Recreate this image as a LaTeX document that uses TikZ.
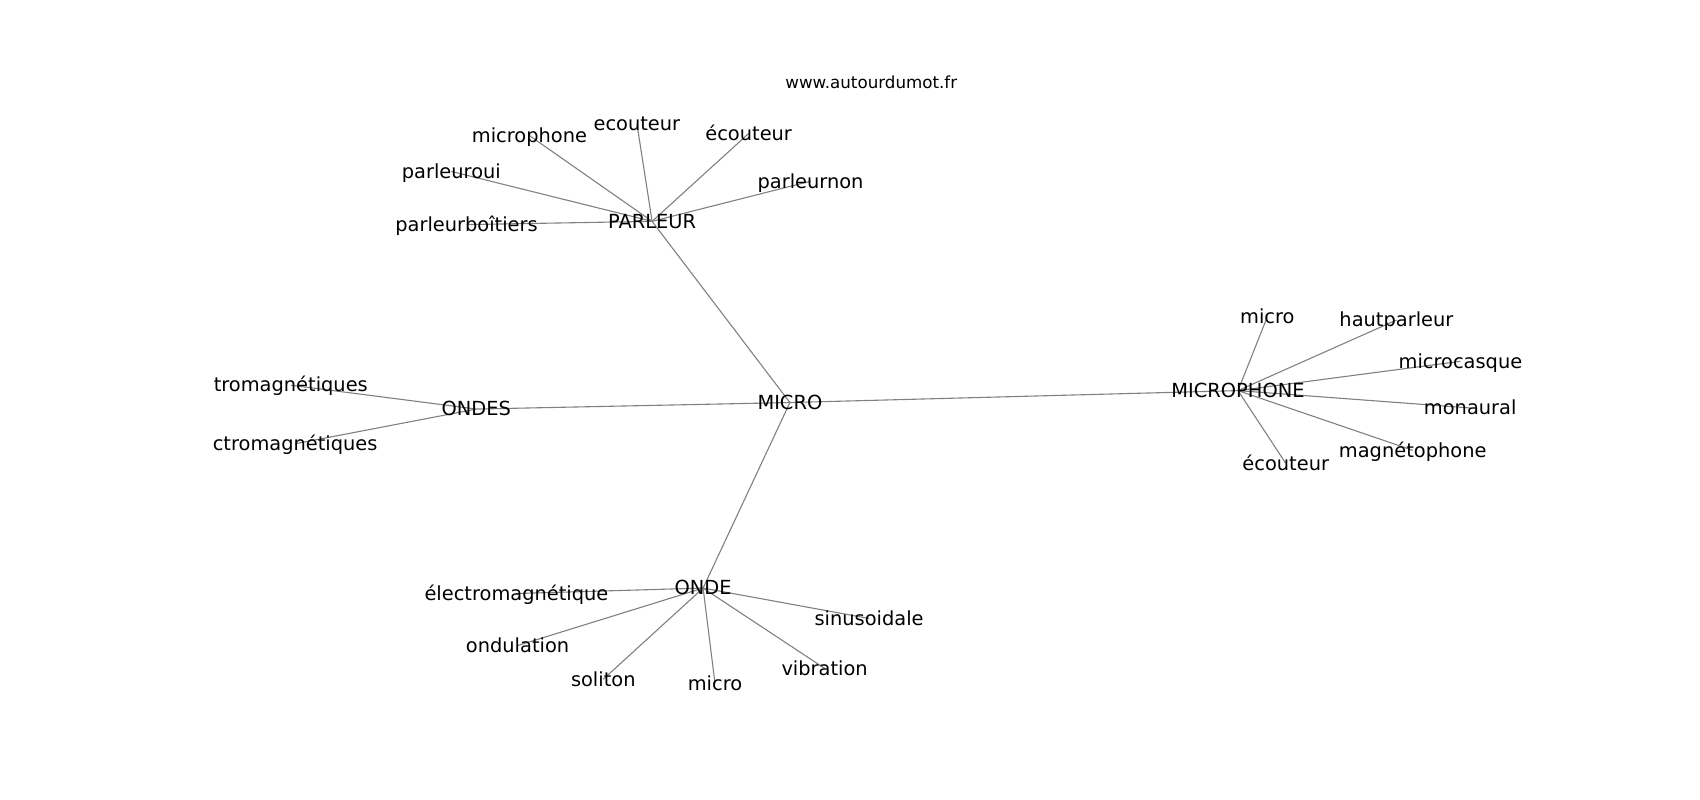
\documentclass[tikz,border=0pt]{standalone}
\usepackage{fontspec}
\setmainfont{DejaVu Sans}
\begin{document}
\begin{tikzpicture}[x=1.085pt,y=-1.085pt,
  lbl/.style={inner sep=0pt,text height=0.76em,text depth=0.24em,font=\fontsize{19.4}{23}\selectfont,anchor=center,yshift=-4.2pt},
  web/.style={inner sep=0pt,font=\fontsize{16.7}{20}\selectfont},
  edge/.style={draw=black!50,line width=1.1pt}]
\useasboundingbox (0,0) rectangle (1566.8,737.3);
\node[web] (www) at (803,76) {www.autourdumot.fr};
% hubs
\coordinate (cMICRO) at (728,371);
\coordinate (cPARLEUR) at (601,204);
\coordinate (cONDES) at (439,377);
\coordinate (cMICROPHONE) at (1141,360);
\coordinate (cONDE) at (648,542);
% leaves
\coordinate (cp1) at (488,125);
\coordinate (cp2) at (587,114);
\coordinate (cp3) at (690,123);
\coordinate (cp4) at (416,158);
\coordinate (cp5) at (747,167);
\coordinate (cp6) at (430,207);
\coordinate (cs1) at (268,355);
\coordinate (cs2) at (272,409);
\coordinate (cm1) at (1168,292);
\coordinate (cm2) at (1287,295);
\coordinate (cm3) at (1346,333);
\coordinate (cm4) at (1355,376);
\coordinate (cm5) at (1302,415);
\coordinate (cm6) at (1185,427);
\coordinate (co1) at (476,547);
\coordinate (co2) at (477,595);
\coordinate (co3) at (556,626);
\coordinate (co4) at (659,630);
\coordinate (co5) at (760,616);
\coordinate (co6) at (801,570);
% edges
\foreach \a/\b in {cMICRO/cPARLEUR,cMICRO/cONDES,cMICRO/cMICROPHONE,cMICRO/cONDE,
  cPARLEUR/cp1,cPARLEUR/cp2,cPARLEUR/cp3,cPARLEUR/cp4,cPARLEUR/cp5,cPARLEUR/cp6,
  cONDES/cs1,cONDES/cs2,
  cMICROPHONE/cm1,cMICROPHONE/cm2,cMICROPHONE/cm3,cMICROPHONE/cm4,cMICROPHONE/cm5,cMICROPHONE/cm6,
  cONDE/co1,cONDE/co2,cONDE/co3,cONDE/co4,cONDE/co5,cONDE/co6}
  \draw[edge] (\a) -- (\b);
% labels
\node[lbl] (MICRO) at (cMICRO) {MICRO};
\node[lbl] (PARLEUR) at (cPARLEUR) {PARLEUR};
\node[lbl] (ONDES) at (cONDES) {ONDES};
\node[lbl] (MICROPHONE) at (cMICROPHONE) {MICROPHONE};
\node[lbl] (ONDE) at (cONDE) {ONDE};
\node[lbl] (p1) at (cp1) {microphone};
\node[lbl] (p2) at (cp2) {ecouteur};
\node[lbl] (p3) at (cp3) {écouteur};
\node[lbl] (p4) at (cp4) {parleuroui};
\node[lbl] (p5) at (cp5) {parleurnon};
\node[lbl] (p6) at (cp6) {parleurboîtiers};
\node[lbl] (s1) at (cs1) {tromagnétiques};
\node[lbl] (s2) at (cs2) {ctromagnétiques};
\node[lbl] (m1) at (cm1) {micro};
\node[lbl] (m2) at (cm2) {hautparleur};
\node[lbl] (m3) at (cm3) {microcasque};
\node[lbl] (m4) at (cm4) {monaural};
\node[lbl] (m5) at (cm5) {magnétophone};
\node[lbl] (m6) at (cm6) {écouteur};
\node[lbl] (o1) at (co1) {électromagnétique};
\node[lbl] (o2) at (co2) {ondulation};
\node[lbl] (o3) at (co3) {soliton};
\node[lbl] (o4) at (co4) {micro};
\node[lbl] (o5) at (co5) {vibration};
\node[lbl] (o6) at (co6) {sinusoidale};
\end{tikzpicture}
\end{document}
